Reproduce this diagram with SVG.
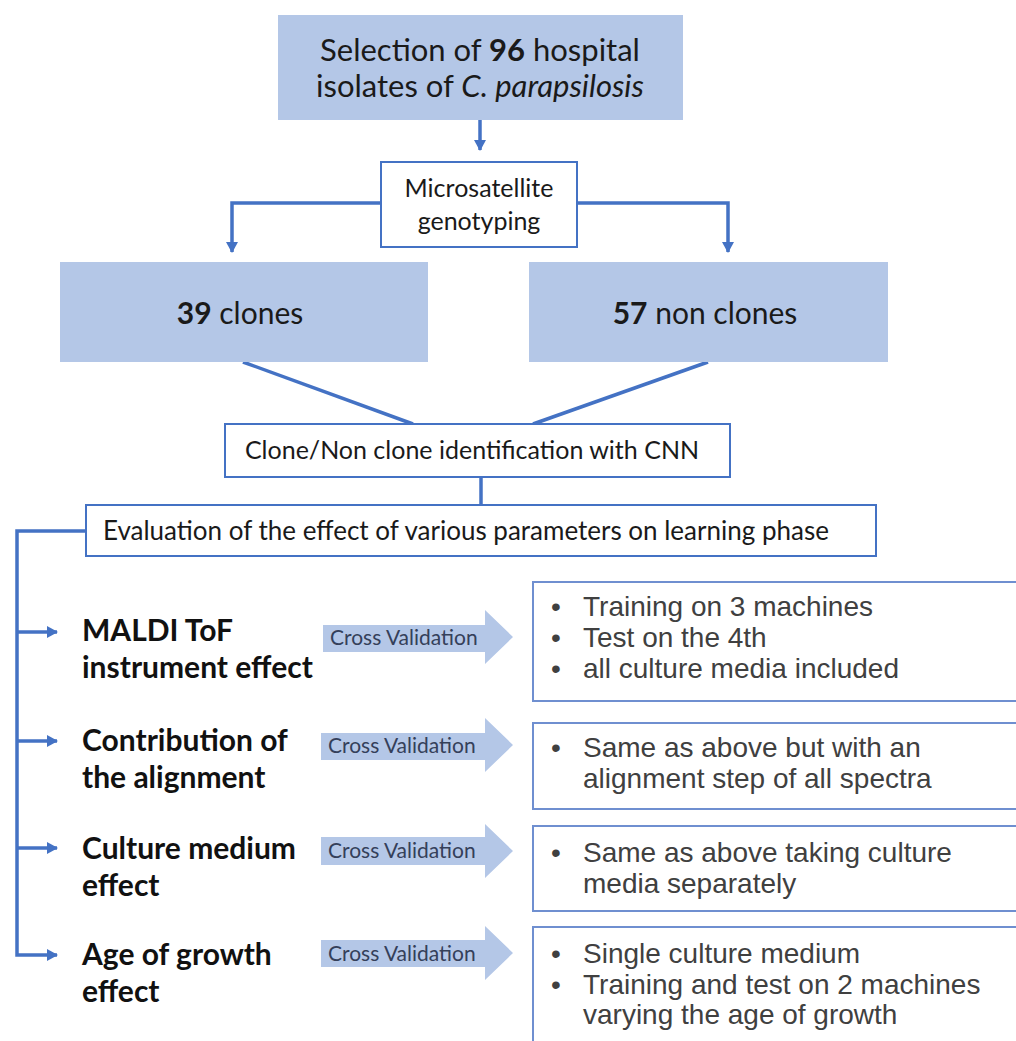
<svg xmlns="http://www.w3.org/2000/svg" width="1016" height="1041" viewBox="0 0 1016 1041">
<style>
.blue{fill:#b4c7e7;}
.wbox{fill:#ffffff;stroke:#4472c4;stroke-width:2;}
.rbox{fill:#ffffff;stroke:#6f8fd0;stroke-width:2;}
.conn{fill:none;stroke:#4472c4;stroke-width:3.5;}
.cal{font-family:Lato,"Open Sans",sans-serif;fill:#1a1a1a;}
.lbl{font-family:Lato,"Open Sans",sans-serif;font-weight:bold;font-size:30px;fill:#111111;}
.cv{font-family:Lato,"Open Sans",sans-serif;font-size:21px;fill:#34405a;}
.ar{font-family:"Liberation Sans",Arial,sans-serif;font-size:28px;fill:#404040;}
.cva{fill:#b4c7e7;}
</style>
<defs>
<marker id="ah" markerWidth="12" markerHeight="12" refX="10" refY="6" orient="auto" markerUnits="userSpaceOnUse">
<path d="M0,0 L11,6 L0,12 Z" fill="#4472c4"/>
</marker>
</defs>
<g id="connectors">
<path class="conn" d="M480,120 V150" stroke-width="3" marker-end="url(#ah)"/>
<path class="conn" d="M381,203 H232 V252" marker-end="url(#ah)"/>
<path class="conn" d="M577,203 H728 V252" marker-end="url(#ah)"/>
<path class="conn" d="M243,362 L413,424"/>
<path class="conn" d="M708,362 L533,424"/>
<path class="conn" d="M481,477 V505"/>
<path class="conn" d="M86,531 H17 V955 H57" marker-end="url(#ah)"/>
<path class="conn" d="M17,632 H57" marker-end="url(#ah)"/>
<path class="conn" d="M17,741 H57" marker-end="url(#ah)"/>
<path class="conn" d="M17,848 H57" marker-end="url(#ah)"/>
</g>
<g id="selection">
<rect class="blue" x="278" y="15" width="405" height="105"/>
<text class="cal" font-size="31" x="480" y="61" text-anchor="middle">Selection of <tspan font-weight="bold">96</tspan> hospital</text>
<text class="cal" font-size="31" x="480" y="97" text-anchor="middle">isolates of <tspan font-style="italic">C. parapsilosis</tspan></text>
</g>
<g id="microsatellite">
<rect class="wbox" x="381" y="162" width="196" height="85"/>
<text class="cal" font-size="25" x="479" y="197" text-anchor="middle">Microsatellite</text>
<text class="cal" font-size="25" x="479" y="230" text-anchor="middle">genotyping</text>
</g>
<g id="clones">
<rect class="blue" x="60" y="262" width="368" height="100"/>
<text class="cal" font-size="30" x="240" y="324" text-anchor="middle"><tspan font-weight="bold">39</tspan> clones</text>
</g>
<g id="nonclones">
<rect class="blue" x="529" y="262" width="359" height="100"/>
<text class="cal" font-size="30" x="705" y="324" text-anchor="middle"><tspan font-weight="bold">57</tspan> non clones</text>
</g>
<g id="cnn">
<rect class="wbox" x="225" y="424" width="505" height="53"/>
<text class="cal" font-size="25" x="472" y="459" text-anchor="middle">Clone/Non clone identification with CNN</text>
</g>
<g id="evaluation">
<rect class="wbox" x="86" y="505" width="790" height="51"/>
<text class="cal" font-size="26" x="103" y="540">Evaluation of the effect of various parameters on learning phase</text>
</g>
<g id="maldi">
<text class="lbl" x="82" y="641">MALDI ToF</text>
<text class="lbl" x="82" y="678">instrument effect</text>
</g>
<g id="alignment">
<text class="lbl" x="82" y="751">Contribution of</text>
<text class="lbl" x="82" y="788">the alignment</text>
</g>
<g id="culture">
<text class="lbl" x="82" y="859">Culture medium</text>
<text class="lbl" x="82" y="896">effect</text>
</g>
<g id="age">
<text class="lbl" x="82" y="965">Age of growth</text>
<text class="lbl" x="82" y="1002">effect</text>
</g>
<g id="cv1">
<path class="cva" d="M323,625 H485 V610 L513,637 L485,664 V652 H323 Z"/>
<text class="cv" x="330" y="645">Cross Validation</text>
</g>
<g id="cv2">
<path class="cva" d="M321,733 H485 V718 L513,745 L485,772 V760 H321 Z"/>
<text class="cv" x="328" y="753">Cross Validation</text>
</g>
<g id="cv3">
<path class="cva" d="M321,837 H485 V824 L513,851 L485,878 V865 H321 Z"/>
<text class="cv" x="328" y="858">Cross Validation</text>
</g>
<g id="cv4">
<path class="cva" d="M321,940 H485 V926 L513,953 L485,980 V967 H321 Z"/>
<text class="cv" x="328" y="961">Cross Validation</text>
</g>
<g id="box1">
<rect class="rbox" x="533" y="582" width="500" height="119"/>
<text class="ar" x="551" y="616">•</text><text class="ar" x="583" y="616">Training on 3 machines</text>
<text class="ar" x="551" y="647">•</text><text class="ar" x="583" y="647">Test on the 4th</text>
<text class="ar" x="551" y="678">•</text><text class="ar" x="583" y="678">all culture media included</text>
</g>
<g id="box2">
<rect class="rbox" x="533" y="723" width="500" height="86"/>
<text class="ar" x="551" y="757">•</text><text class="ar" x="583" y="757">Same as above but with an</text>
<text class="ar" x="583" y="788">alignment step of all spectra</text>
</g>
<g id="box3">
<rect class="rbox" x="533" y="826" width="500" height="85"/>
<text class="ar" x="551" y="862">•</text><text class="ar" x="583" y="862">Same as above taking culture</text>
<text class="ar" x="583" y="893">media separately</text>
</g>
<g id="box4">
<rect class="rbox" x="533" y="927" width="500" height="130"/>
<text class="ar" x="551" y="963">•</text><text class="ar" x="583" y="963">Single culture medium</text>
<text class="ar" x="551" y="994">•</text><text class="ar" x="583" y="994">Training and test on 2 machines</text>
<text class="ar" x="583" y="1024">varying the age of growth</text>
</g>
</svg>
